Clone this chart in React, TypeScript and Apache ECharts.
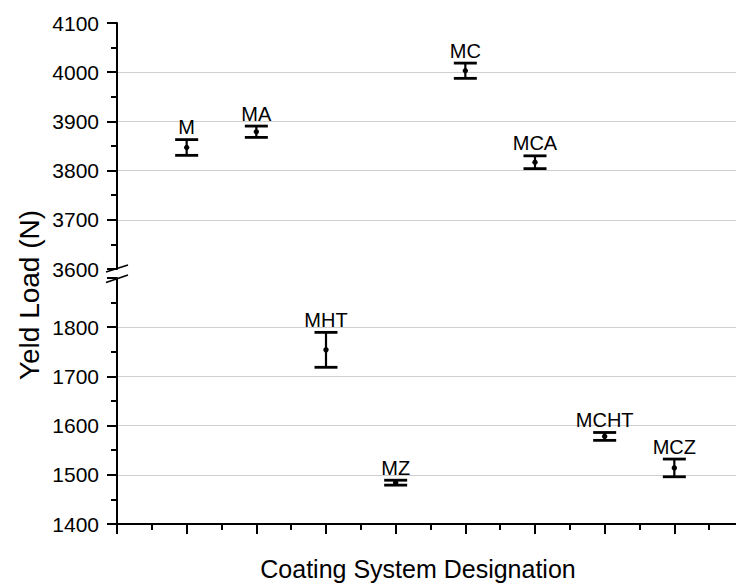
import React, { useEffect, useRef } from "react";
import * as echarts from "echarts";

const categories = ["M", "MA", "MHT", "MZ", "MC", "MCA", "MCHT", "MCZ"];
const means = [3847, 3879, 1754, 1484, 4003, 3817, 1578, 1514];
const errors = [16, 11.5, 35.5, 5, 15.5, 13, 8, 18];
const upperRange = [3600, 4100];
const lowerRange = [1400, 1900];
const lowerTickLabels = [1400, 1500, 1600, 1700, 1800];
const xTitle = "Coating System Designation";
const yTitle = "Yeld Load (N)";

const FONT = "Liberation Sans, Arial, sans-serif";

export default function App() {
  const ref = useRef<HTMLDivElement>(null);
  useEffect(() => {
    if (!ref.current) return;
    const chart = echarts.init(ref.current, undefined, { renderer: "svg" });

    const upperData: any[] = [];
    const lowerData: any[] = [];
    categories.forEach((c, i) => {
      const item = [i + 1, means[i], errors[i]];
      if (means[i] >= upperRange[0]) upperData.push(item);
      else lowerData.push(item);
    });

    const renderItem = (params: any, api: any) => {
      const x = api.value(0);
      const m = api.value(1);
      const e = api.value(2);
      const label = categories[x - 1];
      const p = api.coord([x, m]);
      const top = api.coord([x, m + e]);
      const bot = api.coord([x, m - e]);
      const hw = 11.5;
      const stroke = { stroke: "#000", lineWidth: 2.8 };
      return {
        type: "group",
        children: [
          { type: "line", shape: { x1: p[0], y1: top[1], x2: p[0], y2: bot[1] }, style: { stroke: "#000", lineWidth: 2.2 } },
          { type: "line", shape: { x1: p[0] - hw, y1: top[1], x2: p[0] + hw, y2: top[1] }, style: stroke },
          { type: "line", shape: { x1: p[0] - hw, y1: bot[1], x2: p[0] + hw, y2: bot[1] }, style: stroke },
          { type: "circle", shape: { cx: p[0], cy: p[1], r: 2.7 }, style: { fill: "#000" } },
          {
            type: "text",
            style: {
              text: label,
              x: p[0],
              y: top[1] - 2.5,
              align: "center",
              verticalAlign: "bottom",
              fontSize: 20,
              fontFamily: FONT,
              fill: "#000",
            },
          },
        ],
      };
    };

    const yAxisCommon = {
      type: "value",
      interval: 100,
      axisLine: { show: true, lineStyle: { color: "#000", width: 2 } },
      axisTick: { show: true, length: 10, lineStyle: { color: "#000", width: 2 } },
      minorTick: { show: true, splitNumber: 2, length: 6, lineStyle: { color: "#000", width: 2 } },
      splitLine: { show: true, showMinLine: false, showMaxLine: false, lineStyle: { color: "#cfcfcf", width: 1 } },
      axisLabel: { margin: 18, fontSize: 21, color: "#000", fontFamily: FONT, formatter: (v: number) => String(v) },
    };

    chart.setOption({
      animation: false,
      backgroundColor: "#fff",
      grid: [
        { left: 117, top: 23, right: 0, height: 246 },
        { left: 117, top: 278, right: 0, height: 246 },
      ],
      xAxis: [
        { type: "value", gridIndex: 0, min: 0, max: 9, interval: 1, show: false },
        {
          type: "value",
          gridIndex: 1,
          min: 0,
          max: 9,
          interval: 1,
          axisLine: { show: true, onZero: false, lineStyle: { color: "#000", width: 2 } },
          axisTick: { show: true, length: 10, lineStyle: { color: "#000", width: 2 } },
          minorTick: { show: true, splitNumber: 2, length: 6, lineStyle: { color: "#000", width: 2 } },
          splitLine: { show: false },
          axisLabel: { show: false },
        },
      ],
      yAxis: [
        { ...yAxisCommon, gridIndex: 0, min: upperRange[0], max: upperRange[1] },
        {
          ...yAxisCommon,
          gridIndex: 1,
          min: lowerRange[0],
          max: lowerRange[1],
          axisLabel: {
            ...yAxisCommon.axisLabel,
            formatter: (v: number) => (lowerTickLabels.includes(v) ? String(v) : ""),
          },
        },
      ],
      series: [
        { type: "custom", xAxisIndex: 0, yAxisIndex: 0, data: upperData, renderItem, clip: false },
        { type: "custom", xAxisIndex: 1, yAxisIndex: 1, data: lowerData, renderItem, clip: false },
      ],
      graphic: [
        { type: "line", shape: { x1: 106, y1: 272, x2: 128, y2: 265 }, style: { stroke: "#000", lineWidth: 1.6 }, z: 100 },
        { type: "line", shape: { x1: 106, y1: 282.5, x2: 128, y2: 275 }, style: { stroke: "#000", lineWidth: 1.6 }, z: 100 },
        {
          type: "text",
          x: 418,
          y: 569,
          style: { text: xTitle, align: "center", verticalAlign: "middle", fontSize: 25, fontFamily: FONT, fill: "#000" },
        },
        {
          type: "text",
          x: 29,
          y: 295,
          rotation: Math.PI / 2,
          style: { text: yTitle, align: "center", verticalAlign: "middle", fontSize: 28, fontFamily: FONT, fill: "#000" },
        },
      ],
    });
    return () => chart.dispose();
  }, []);
  return <div ref={ref} style={{ position: "fixed", left: 0, top: 0, width: 744, height: 585 }} />;
}
